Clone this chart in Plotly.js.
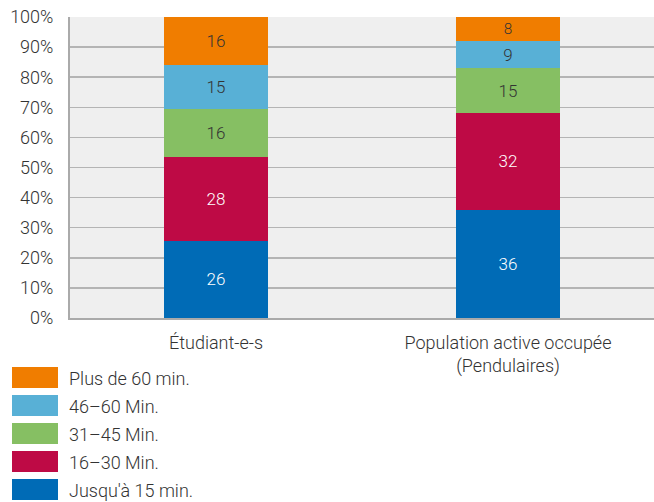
<!DOCTYPE html>
<html>
<head>
<meta charset="utf-8">
<script src="https://cdn.plot.ly/plotly-3.0.1.min.js"></script>
<style>
  html, body { margin: 0; padding: 0; background: #fff; }
  #chart { width: 654px; height: 502px; }
</style>
</head>
<body>
<div id="chart"></div>
<script>
// Categories on the x axis
const categories = ['Étudiant-e-s', 'Population active occupée<br>(Pendulaires)'];

// Travel-time classes (bottom to top of the stack)
const seriesNames = ['Jusqu\'à 15 min.', '16–30 Min.', '31–45 Min.', '46–60 Min.', 'Plus de 60 min.'];
const seriesColors = ['#006BB6', '#BE0A45', '#86BF63', '#58B0D6', '#F07D00'];
const labelColors = ['#ffffff', '#ffffff', '#333333', '#333333', '#333333'];

// Shares in percent per class
const upTo15 = [26, 36];
const from16to30 = [28, 32];
const from31to45 = [16, 15];
const from46to60 = [15, 9];
const over60 = [16, 8];
const seriesValues = [upTo15, from16to30, from31to45, from46to60, over60];

const yTicks = [0, 10, 20, 30, 40, 50, 60, 70, 80, 90, 100];

const fontFamily = 'Roboto, "Open Sans", sans-serif';
const fontSize = 18;
const fontWeight = 300;
const textColor = '#333333';

const traces = seriesNames.map((name, i) => ({
  type: 'bar',
  name: name,
  x: categories,
  y: seriesValues[i],
  text: seriesValues[i].map(String),
  texttemplate: '%{text}',
  textposition: 'inside',
  insidetextanchor: 'middle',
  textangle: 0,
  insidetextfont: { family: fontFamily, size: 17, color: labelColors[i], weight: fontWeight },
  marker: { color: seriesColors[i], line: { width: 0 } },
  hoverinfo: 'skip',
  showlegend: false
}));

// Plot area geometry in pixels (used to place the legend in paper units)
const figW = 654, figH = 502;
const mL = 70, mR = 0, mT = 17, mB = 184;
const plotW = figW - mL - mR;
const plotH = figH - mT - mB;
const pxToPaperX = px => (px - mL) / plotW;
const pxToPaperY = py => (figH - mB - py) / plotH;

// Legend drawn as swatches + labels, top entry = top of the stack
const shapes = [];
const annotations = [];
const legendTop = 367;
const rowStep = 28;
const swatchH = 21;
const order = seriesNames.map((_, i) => i).reverse();
order.forEach((idx, row) => {
  const yTopPx = legendTop + row * rowStep;
  shapes.push({
    type: 'rect', xref: 'paper', yref: 'paper',
    x0: pxToPaperX(12), x1: pxToPaperX(58),
    y0: pxToPaperY(yTopPx + swatchH), y1: pxToPaperY(yTopPx),
    fillcolor: seriesColors[idx], line: { width: 0 }
  });
  annotations.push({
    xref: 'paper', yref: 'paper',
    x: pxToPaperX(67),
    y: pxToPaperY(yTopPx + swatchH / 2 + 1),
    xanchor: 'left', yanchor: 'middle',
    text: seriesNames[idx], showarrow: false,
    font: { family: fontFamily, size: fontSize, color: textColor, weight: fontWeight }
  });
});

const layout = {
  width: figW,
  height: figH,
  margin: { l: mL, r: mR, t: mT, b: mB, pad: 0 },
  paper_bgcolor: '#ffffff',
  plot_bgcolor: '#efefef',
  barmode: 'stack',
  barnorm: 'percent',
  bargap: 0.647,
  font: { family: fontFamily, size: fontSize, color: textColor, weight: fontWeight },
  xaxis: {
    type: 'category',
    showgrid: false,
    showline: true, linecolor: '#aaaaaa', linewidth: 2,
    ticks: '', ticklen: 0,
    ticklabelstandoff: 7,
    tickfont: { family: fontFamily, size: fontSize, color: textColor, weight: fontWeight },
    automargin: false
  },
  yaxis: {
    range: [0, 100],
    tickvals: yTicks,
    ticktext: yTicks.map(v => v + '%'),
    showgrid: true, gridcolor: '#b4b4b4', gridwidth: 1.5,
    showline: true, linecolor: '#aaaaaa', linewidth: 2,
    zeroline: false,
    ticks: '', ticklen: 0,
    ticklabelstandoff: 11,
    tickfont: { family: fontFamily, size: fontSize, color: textColor, weight: fontWeight },
    automargin: false,
    fixedrange: true
  },
  shapes: shapes,
  annotations: annotations,
  showlegend: false
};

Plotly.newPlot('chart', traces, layout, { displayModeBar: false, staticPlot: true });
</script>
</body>
</html>
